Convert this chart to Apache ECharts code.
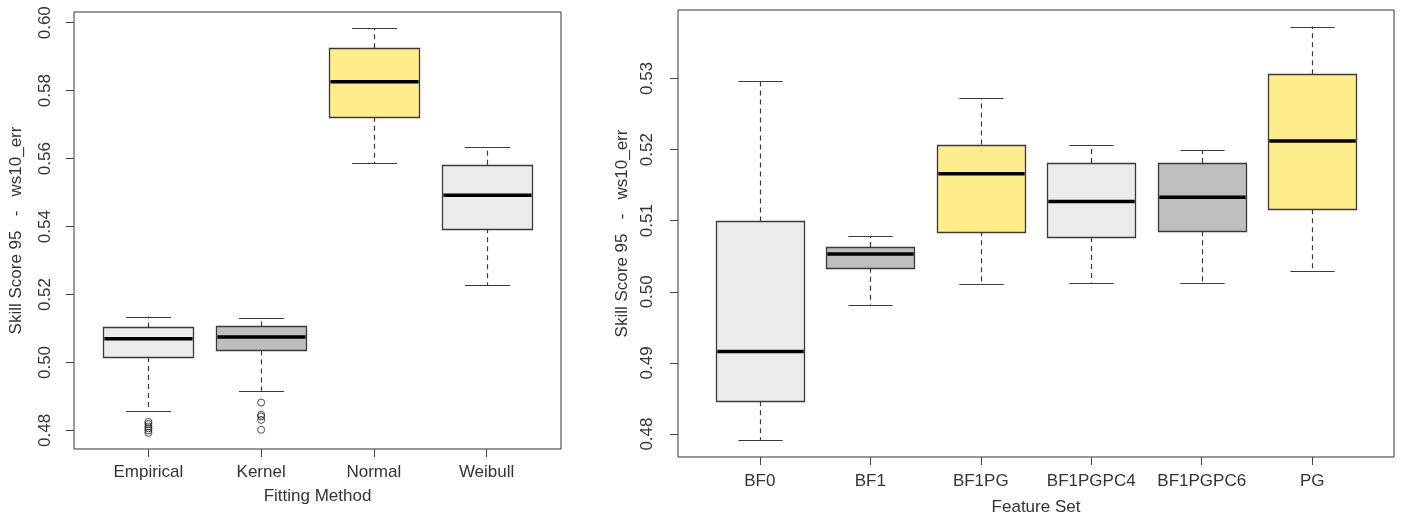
<!DOCTYPE html>
<html>
<head>
<meta charset="utf-8">
<script src="https://cdn.jsdelivr.net/npm/echarts@6/dist/echarts.min.js"></script>
<style>
html,body{margin:0;padding:0;background:#fff;}
#chart{width:1403px;height:521px;}
</style>
</head>
<body>
<div id="chart"></div>
<script>
// ---------- data ----------
const leftCategories = ['Empirical', 'Kernel', 'Normal', 'Weibull'];
// [lower whisker, Q1, median, Q3, upper whisker]
const leftEmpirical = [0.4856, 0.5016, 0.5070, 0.5103, 0.5135];
const leftKernel    = [0.4917, 0.5035, 0.5075, 0.5106, 0.5132];
const leftNormal    = [0.5586, 0.5723, 0.5826, 0.5925, 0.5984];
const leftWeibull   = [0.5228, 0.5395, 0.5492, 0.5582, 0.5635];
const outEmpirical  = [0.4825, 0.4819, 0.4812, 0.4806, 0.4800, 0.4793];
const outKernel     = [0.4882, 0.4846, 0.4841, 0.4831, 0.4802];
const leftTicks = [0.48, 0.50, 0.52, 0.54, 0.56, 0.58, 0.60];

const rightCategories = ['BF0', 'BF1', 'BF1PG', 'BF1PGPC4', 'BF1PGPC6', 'PG'];
const rightBF0      = [0.4791, 0.4846, 0.4916, 0.5099, 0.5297];
const rightBF1      = [0.4982, 0.5034, 0.5053, 0.5063, 0.5078];
const rightBF1PG    = [0.5011, 0.5085, 0.5166, 0.5207, 0.5272];
const rightBF1PGPC4 = [0.5013, 0.5077, 0.5127, 0.5181, 0.5206];
const rightBF1PGPC6 = [0.5013, 0.5085, 0.5133, 0.5181, 0.5199];
const rightPG       = [0.5029, 0.5116, 0.5212, 0.5306, 0.5373];
const rightTicks = [0.48, 0.49, 0.50, 0.51, 0.52, 0.53];

const yTitle = 'Skill Score 95   -   ws10_err';
const leftXTitle = 'Fitting Method';
const rightXTitle = 'Feature Set';

// ---------- styles ----------
const GREY_LIGHT = '#ebebeb', GREY = '#bebebe', GOLD = '#ffec8b';
const leftFills = [GREY_LIGHT, GREY, GOLD, GREY_LIGHT];
const rightFills = [GREY_LIGHT, GREY, GOLD, GREY_LIGHT, GREY, GOLD];
const FONT = '"Liberation Sans", Arial, sans-serif';
const TEXT = '#333';

// ---------- build ----------
const leftBoxes = [leftEmpirical, leftKernel, leftNormal, leftWeibull]
  .map((b, i) => [i + 1].concat(b));
const rightBoxes = [rightBF0, rightBF1, rightBF1PG, rightBF1PGPC4, rightBF1PGPC6, rightPG]
  .map((b, i) => [i + 1].concat(b));
const leftOutliers = outEmpirical.map(v => [1, v]).concat(outKernel.map(v => [2, v]));

function rangeOf(vals) {
  const lo = Math.min.apply(null, vals), hi = Math.max.apply(null, vals);
  const pad = (hi - lo) * 0.04;
  return [lo - pad, hi + pad];
}
const leftRange = rangeOf([].concat(...leftBoxes.map(b => b.slice(1)), outEmpirical, outKernel));
const rightRange = rangeOf([].concat(...rightBoxes.map(b => b.slice(1))));

function makeRender(fills) {
  return function (params, api) {
    const x = api.value(0);
    const lo = api.coord([x, api.value(1)]);
    const q1 = api.coord([x, api.value(2)]);
    const md = api.coord([x, api.value(3)]);
    const q3 = api.coord([x, api.value(4)]);
    const hi = api.coord([x, api.value(5)]);
    const bw = api.size([0.8, 0])[0];
    const cx = Math.round(md[0]) + 0.5;
    const l = cx - bw / 2, r = cx + bw / 2;
    const wStyle = { stroke: '#3a3a3a', lineWidth: 1.2, lineDash: [5, 4] };
    const cStyle = { stroke: '#3a3a3a', lineWidth: 1.2 };
    return {
      type: 'group',
      children: [
        { type: 'line', shape: { x1: cx, y1: q1[1], x2: cx, y2: lo[1] }, style: wStyle },
        { type: 'line', shape: { x1: cx, y1: q3[1], x2: cx, y2: hi[1] }, style: wStyle },
        { type: 'line', shape: { x1: cx - bw / 4, y1: Math.round(lo[1]) + 0.5, x2: cx + bw / 4, y2: Math.round(lo[1]) + 0.5 }, style: cStyle },
        { type: 'line', shape: { x1: cx - bw / 4, y1: Math.round(hi[1]) + 0.5, x2: cx + bw / 4, y2: Math.round(hi[1]) + 0.5 }, style: cStyle },
        { type: 'rect', shape: { x: Math.round(l) + 0.5, y: Math.round(q3[1]) + 0.5, width: Math.round(bw), height: Math.round(q1[1] - q3[1]) },
          style: { fill: fills[params.dataIndex], stroke: '#3a3a3a', lineWidth: 1.3 } },
        { type: 'line', shape: { x1: l + 1, y1: md[1], x2: r - 1, y2: md[1] }, style: { stroke: '#000', lineWidth: 3.5 } }
      ]
    };
  };
}

function xAxisCfg(gi, cats, range, title, margin, gap) {
  const vals = cats.map((c, i) => i + 1);
  return {
    gridIndex: gi, type: 'value', min: range[0], max: range[1],
    axisLine: { show: false }, splitLine: { show: false },
    axisTick: { show: true, inside: false, length: 8, customValues: vals, lineStyle: { color: '#444' } },
    axisLabel: { customValues: vals, margin: margin, fontSize: 17, fontFamily: FONT, color: TEXT,
      formatter: v => cats[Math.round(v) - 1] || '' },
    name: title, nameLocation: 'middle', nameGap: gap,
    nameTextStyle: { fontSize: 17, fontFamily: FONT, color: TEXT }
  };
}
function yAxisCfg(gi, ticks, range, margin, gap) {
  return {
    gridIndex: gi, type: 'value', min: range[0], max: range[1],
    axisLine: { show: false }, splitLine: { show: false },
    axisTick: { show: true, inside: false, length: 8, customValues: ticks, lineStyle: { color: '#444' } },
    axisLabel: { customValues: ticks, rotate: 90, margin: margin, fontSize: 17, fontFamily: FONT, color: TEXT,
      formatter: v => v.toFixed(2) },
    name: yTitle, nameLocation: 'middle', nameGap: gap, nameRotate: 90,
    nameTextStyle: { fontSize: 17, fontFamily: FONT, color: TEXT }
  };
}

const chart = echarts.init(document.getElementById('chart'), null, { renderer: 'canvas' });
chart.setOption({
  animation: false,
  backgroundColor: '#fff',
  grid: [
    { left: 74, top: 12, width: 487, height: 437, show: true, borderColor: '#333', borderWidth: 1, backgroundColor: 'transparent' },
    { left: 678, top: 10, width: 716, height: 447, show: true, borderColor: '#333', borderWidth: 1, backgroundColor: 'transparent' }
  ],
  xAxis: [
    xAxisCfg(0, leftCategories, [0.34, 4.66], leftXTitle, 15, 39),
    xAxisCfg(1, rightCategories, [0.26, 6.74], rightXTitle, 16, 42)
  ],
  yAxis: [
    yAxisCfg(0, leftTicks, leftRange, 20, 49),
    yAxisCfg(1, rightTicks, rightRange, 22, 46)
  ],
  series: [
    { type: 'custom', xAxisIndex: 0, yAxisIndex: 0, renderItem: makeRender(leftFills), data: leftBoxes, z: 2 },
    { type: 'scatter', xAxisIndex: 0, yAxisIndex: 0, data: leftOutliers, symbol: 'circle', symbolSize: 7,
      itemStyle: { color: 'rgba(255,255,255,0)', borderColor: '#222', borderWidth: 1 }, z: 3 },
    { type: 'custom', xAxisIndex: 1, yAxisIndex: 1, renderItem: makeRender(rightFills), data: rightBoxes, z: 2 }
  ]
});
</script>
</body>
</html>
